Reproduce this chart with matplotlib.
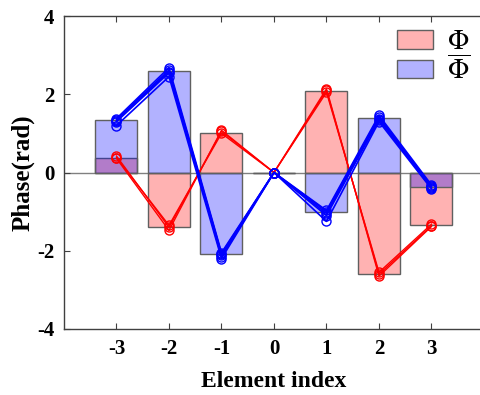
import numpy as np
import matplotlib
matplotlib.use("Agg")
import matplotlib.pyplot as plt

plt.rcParams['font.family'] = ['Liberation Serif', 'DejaVu Serif']
plt.rcParams['mathtext.fontset'] = 'stix'
plt.rcParams['axes.unicode_minus'] = False

# element index and phase of the bars
index = [-3, -2, -1, 0, 1, 2, 3]
phi = [0.38, -1.40, 1.00, 0.0, 2.08, -2.60, -1.35]
phi_bar = [1.35, 2.60, -2.08, 0.0, -1.02, 1.40, -0.38]

# measured curves (several runs each)
red_runs = [
    [0.38, -1.35, 1.00, 0.0, 2.05, -2.55, -1.32],
    [0.42, -1.40, 1.05, 0.0, 2.10, -2.60, -1.36],
    [0.36, -1.48, 1.08, 0.0, 2.14, -2.65, -1.38],
]
blue_runs = [
    [1.38, 2.68, -2.05, 0.0, -0.97, 1.46, -0.32],
    [1.35, 2.62, -2.08, 0.0, -1.00, 1.42, -0.35],
    [1.32, 2.58, -2.10, 0.0, -1.05, 1.38, -0.37],
    [1.30, 2.55, -2.15, 0.0, -1.10, 1.35, -0.40],
    [1.20, 2.45, -2.20, 0.0, -1.25, 1.30, -0.42],
]

fig = plt.figure(figsize=(4.81, 3.95), dpi=100)
ax = fig.add_axes([64/481, 66/395, 420/481, 313/395])

ax.axhline(0, color='#808080', lw=1, zorder=1)

ax.bar(index, phi, width=0.8, color=(1, 0, 0, 0.3), edgecolor='#606060',
       linewidth=1, label=r'$\Phi$', zorder=2)
ax.bar(index, phi_bar, width=0.8, color=(0, 0, 1, 0.3), edgecolor='#606060',
       linewidth=1, label=r'$\overline{\Phi}$', zorder=2)

for r in red_runs:
    ax.plot(index, r, color='red', lw=1.0, marker='o', ms=6.5,
            mfc='none', mec='red', mew=1.0, zorder=3)
for b in blue_runs:
    ax.plot(index, b, color='blue', lw=1.2, marker='o', ms=6.5,
            mfc='none', mec='blue', mew=1.0, zorder=4)

ax.set_xlim(-4, 4)
ax.set_ylim(-4, 4)
ax.set_xticks(index)
ax.set_yticks([-4, -2, 0, 2, 4])
ax.tick_params(direction='in', top=True, right=False, labelsize=15,
               length=4, color='#404040', pad=7)
for lbl in ax.get_xticklabels() + ax.get_yticklabels():
    lbl.set_fontweight('bold')
for s in ax.spines.values():
    s.set_color('#404040')
    s.set_linewidth(1)

ax.set_xlabel('Element index', fontsize=17, fontweight='bold', labelpad=9)
ax.set_ylabel('Phase(rad)', fontsize=18, fontweight='bold', labelpad=2)

leg = ax.legend(loc='upper right', bbox_to_anchor=(0.993, 0.99), frameon=False,
                prop={'size': 20}, handlelength=1.3,
                handleheight=0.65, labelspacing=0.0, handletextpad=0.5,
                borderaxespad=0.1, borderpad=0.3)

fig.savefig('out.png', dpi=100)
